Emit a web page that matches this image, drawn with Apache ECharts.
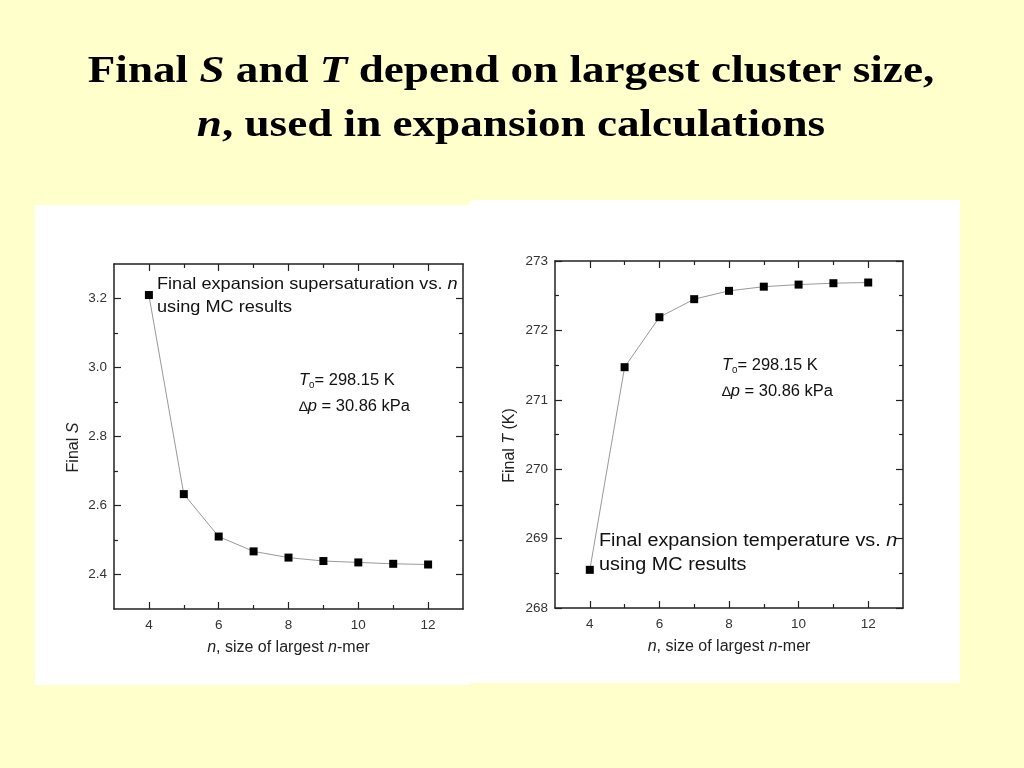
<!DOCTYPE html>
<html>
<head>
<meta charset="utf-8">
<script src="https://cdn.jsdelivr.net/npm/echarts@6/dist/echarts.min.js"></script>
<style>
  html, body { margin: 0; padding: 0; background: #FFFFCC; }
  #chart { width: 1024px; height: 768px; }
</style>
</head>
<body>
<div id="chart"></div>
<script>
// ---- data ----
const nValues = [4, 5, 6, 7, 8, 9, 10, 11, 12];
const finalS = [3.210, 2.633, 2.510, 2.467, 2.449, 2.439, 2.435, 2.431, 2.429];
const finalT = [268.55, 271.47, 272.19, 272.45, 272.57, 272.63, 272.66, 272.68, 272.69];
// tick labels / tick positions
const xTickLabels = [4, 6, 8, 10, 12];
const xMinorTicks = [5, 7, 9, 11];
const sTickLabels = [2.4, 2.6, 2.8, 3.0, 3.2];
const sMinorTicks = [2.5, 2.7, 2.9, 3.1];
const tTickLabels = [268, 269, 270, 271, 272, 273];
const tMinorTicks = [268.5, 269.5, 270.5, 271.5, 272.5];

const SANS = 'Liberation Sans, Arial, sans-serif';
const SERIF = 'Liberation Serif, Times New Roman, serif';
const AX = '#222';

const chart = echarts.init(document.getElementById('chart'));

const italicRich = { i: { fontStyle: 'italic', fontFamily: SANS, fontSize: 16, color: '#222' } };

function tickAxis(gi, pos, min, max, values, len, withLine) {
  return {
    type: 'value', gridIndex: gi, position: pos, min: min, max: max,
    axisLine: { show: withLine, onZero: false, lineStyle: { color: AX, width: 1.5 } },
    axisTick: { show: true, inside: true, length: len, customValues: values, lineStyle: { color: AX, width: 1.2 } },
    axisLabel: { show: false },
    splitLine: { show: false }
  };
}

function xAxes(gi) {
  return [
    {
      type: 'value', gridIndex: gi, position: 'bottom', min: 3, max: 13,
      name: '{i|n}, size of largest {i|n}-mer', nameLocation: 'middle', nameGap: 31,
      nameTextStyle: { fontFamily: SANS, fontSize: 16, color: '#222', rich: italicRich },
      axisLine: { show: true, onZero: false, lineStyle: { color: AX, width: 1.5 } },
      axisTick: { show: true, inside: true, length: 7, customValues: xTickLabels, lineStyle: { color: AX, width: 1.2 } },
      axisLabel: { margin: 9, fontFamily: SANS, fontSize: 13.5, color: '#333', customValues: xTickLabels },
      splitLine: { show: false }
    },
    tickAxis(gi, 'bottom', 3, 13, xMinorTicks, 4, false),
    tickAxis(gi, 'top', 3, 13, xTickLabels, 7, true),
    tickAxis(gi, 'top', 3, 13, xMinorTicks, 4, false)
  ];
}

function yAxes(gi, min, max, labels, minor, decimals, nameText, gap) {
  return [
    {
      type: 'value', gridIndex: gi, position: 'left', min: min, max: max,
      name: nameText, nameLocation: 'middle', nameGap: gap,
      nameTextStyle: { fontFamily: SANS, fontSize: 16, color: '#222', padding: [0, 22, 0, 0], rich: italicRich },
      axisLine: { show: true, onZero: false, lineStyle: { color: AX, width: 1.5 } },
      axisTick: { show: true, inside: true, length: 7, customValues: labels, lineStyle: { color: AX, width: 1.2 } },
      axisLabel: { margin: 7, fontFamily: SANS, fontSize: 13.5, color: '#333', customValues: labels,
        formatter: v => Number(v).toFixed(decimals) },
      splitLine: { show: false }
    },
    tickAxis(gi, 'left', min, max, minor, 4, false),
    tickAxis(gi, 'right', min, max, labels, 7, true),
    tickAxis(gi, 'right', min, max, minor, 4, false)
  ];
}

function annText(x, y, text, size, sx) {
  return {
    type: 'text', z: 50, x: x, y: y, scaleX: sx, scaleY: 1,
    style: {
      x: 0, y: 0, text: text, fill: '#111',
      fontFamily: SANS, fontSize: size, textVerticalAlign: 'middle', textAlign: 'left',
      rich: {
        i: { fontStyle: 'italic', fontFamily: SANS, fontSize: size, fill: '#111', lineHeight: size + 2 },
        r: { fontFamily: SANS, fontSize: size, fill: '#111', lineHeight: size + 2 },
        sub: { fontFamily: SANS, fontSize: 9.5, fill: '#111', lineHeight: 4, verticalAlign: 'bottom' },
        d: { fontFamily: SANS, fontSize: size - 2, fill: '#111', lineHeight: size + 2 }
      }
    }
  };
}

function titleLine(y, text) {
  return {
    type: 'text', z: 50, x: 511, y: y, scaleX: 1.22, scaleY: 1,
    style: {
      x: 0, y: 0, text: text, fill: '#000',
      fontFamily: SERIF, fontSize: 37, fontWeight: 'bold',
      textAlign: 'center', textVerticalAlign: 'middle',
      rich: {
        b: { fontFamily: SERIF, fontSize: 37, fontWeight: 'bold', fill: '#000' },
        bi: { fontFamily: SERIF, fontSize: 37, fontWeight: 'bold', fontStyle: 'italic', fill: '#000' }
      }
    }
  };
}

const option = {
  backgroundColor: '#FFFFCC',
  animation: false,
  grid: [
    { left: 114, top: 264, width: 349, height: 345 },
    { left: 555, top: 261, width: 348, height: 347 }
  ],
  xAxis: [...xAxes(0), ...xAxes(1)],
  yAxis: [
    ...yAxes(0, 2.3, 3.3, sTickLabels, sMinorTicks, 1, 'Final {i|S}', 32),
    ...yAxes(1, 268, 273, tTickLabels, tMinorTicks, 0, 'Final {i|T} (K)', 37)
  ],
  series: [
    {
      name: 'Final S', type: 'line', xAxisIndex: 0, yAxisIndex: 0,
      data: nValues.map((n, i) => [n, finalS[i]]),
      symbol: 'rect', symbolSize: 8,
      itemStyle: { color: '#000' },
      lineStyle: { color: '#999', width: 1 },
      z: 5
    },
    {
      name: 'Final T', type: 'line', xAxisIndex: 4, yAxisIndex: 4,
      data: nValues.map((n, i) => [n, finalT[i]]),
      symbol: 'rect', symbolSize: 8,
      itemStyle: { color: '#000' },
      lineStyle: { color: '#999', width: 1 },
      z: 5
    }
  ],
  graphic: {
    elements: [
      { type: 'rect', z: -10, silent: true, shape: { x: 35, y: 205, width: 436, height: 480 }, style: { fill: '#FFFFFF' } },
      { type: 'rect', z: -10, silent: true, shape: { x: 470, y: 200, width: 490, height: 483 }, style: { fill: '#FFFFFF' } },
      titleLine(72, '{b|Final }{bi|S}{b| and }{bi|T}{b| depend on largest cluster size,}'),
      titleLine(126, '{bi|n}{b|, used in expansion calculations}'),
      annText(157, 284, '{r|Final expansion supersaturation vs. }{i|n}', 16.5, 1.10),
      annText(157, 307, '{r|using MC results}', 16.5, 1.10),
      annText(299, 381, '{i|T}{sub|0}{r|= 298.15 K}', 16, 1.03),
      annText(299, 407, '{d|\u2206}{i|p}{r| = 30.86 kPa}', 16, 1.03),
      annText(599, 541, '{r|Final expansion temperature vs. }{i|n}', 18, 1.10),
      annText(599, 565, '{r|using MC results}', 18, 1.10),
      annText(722, 366, '{i|T}{sub|0}{r|= 298.15 K}', 16, 1.03),
      annText(722, 392, '{d|\u2206}{i|p}{r| = 30.86 kPa}', 16, 1.03)
    ]
  }
};

chart.setOption(option);
</script>
</body>
</html>
